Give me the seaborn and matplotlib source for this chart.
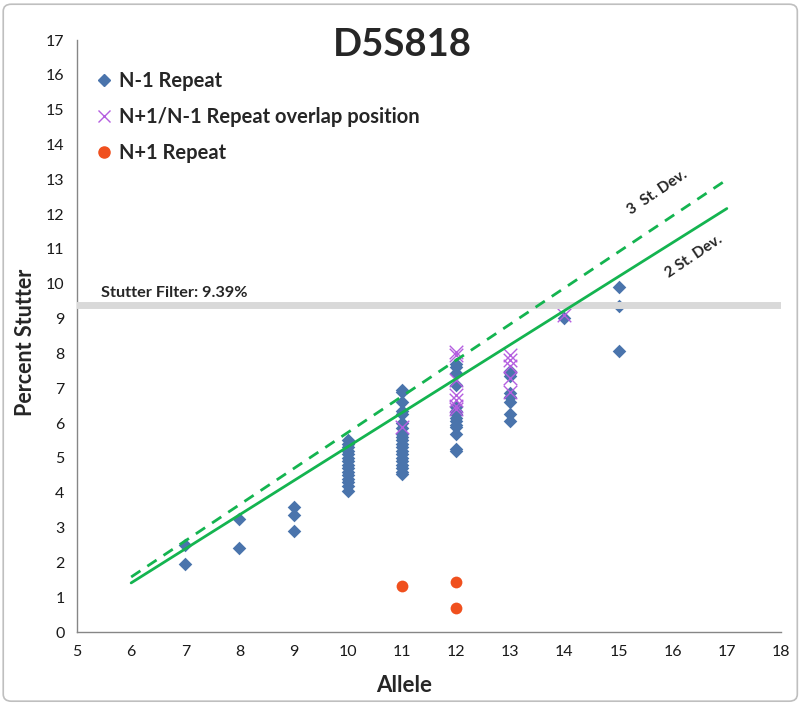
import numpy as np
import pandas as pd
import seaborn as sns
import matplotlib.pyplot as plt
from matplotlib.lines import Line2D
from matplotlib.patches import FancyBboxPatch

# data
n1_allele = ([7, 7, 8, 8, 9, 9, 9] + [10] * 15 + [11] * 20 + [12] * 14 + [13] * 8 + [14, 15, 15, 15])
n1_stutter = [2.5, 1.95, 3.25, 2.4, 3.6, 3.35, 2.9,
              5.5, 5.4, 5.3, 5.2, 5.1, 5.0, 4.9, 4.8, 4.7, 4.6, 4.5, 4.4, 4.3, 4.2, 4.05,
              6.95, 6.9, 6.6, 6.35, 6.25, 6.0, 5.85, 5.7, 5.6, 5.5, 5.4, 5.3, 5.2, 5.1,
              5.0, 4.9, 4.8, 4.7, 4.6, 4.55,
              7.7, 7.6, 7.45, 7.1, 6.45, 6.35, 6.25, 6.15, 6.05, 5.95, 5.9, 5.7, 5.25, 5.2,
              7.5, 7.45, 7.35, 6.85, 6.75, 6.6, 6.25, 6.05,
              9.02, 9.92, 9.35, 8.07]

overlap_allele = [11] + [12] * 7 + [13] * 5 + [14]
overlap_stutter = [5.9, 8.05, 7.95, 7.25, 6.8, 6.65, 6.5, 6.4,
                   7.95, 7.8, 7.65, 7.3, 6.9, 9.1]

p1_allele = [11, 12, 12]
p1_stutter = [1.32, 1.45, 0.69]

line_allele = [6, 17]
sd2_stutter = [1.41, 12.16]
sd3_stutter = [1.58, 12.99]
stutter_filter = 9.39

blue = '#4A74AC'
violet = '#B45EE0'
red = '#F0501E'
green = '#14B450'

sns.set_style('white')
plt.rcParams['font.family'] = ['Lato', 'DejaVu Sans']

fig = plt.figure(figsize=(8.07, 7.04), dpi=100)
ax = fig.add_axes([77 / 807, 1 - 632 / 704, (781 - 77) / 807, (632 - 40) / 704])

df1 = pd.DataFrame({'allele': n1_allele, 'stutter': n1_stutter})
dfo = pd.DataFrame({'allele': overlap_allele, 'stutter': overlap_stutter})
dfp = pd.DataFrame({'allele': p1_allele, 'stutter': p1_stutter})

sns.scatterplot(data=df1, x='allele', y='stutter', marker='D', s=48, color=blue,
                edgecolor=blue, linewidth=0, ax=ax, zorder=2)
sns.scatterplot(data=dfo, x='allele', y='stutter', marker='x', s=95, color=violet,
                linewidth=1.0, ax=ax, zorder=3)
sns.scatterplot(data=dfp, x='allele', y='stutter', marker='o', s=72, color=red,
                edgecolor=red, linewidth=0, ax=ax, zorder=2)

ax.axhline(stutter_filter, color='#D9D9D9', lw=5, zorder=4)
sns.lineplot(x=line_allele, y=sd2_stutter, color=green, lw=2, ax=ax, zorder=5)
sns.lineplot(x=line_allele, y=sd3_stutter, color=green, lw=2, ax=ax, zorder=5)
ax.lines[-1].set_dashes([4, 3])

ax.set_xlim(5, 18)
ax.set_ylim(0, 17)
ax.set_xticks(range(5, 19))
ax.set_yticks(range(0, 18))
ax.tick_params(axis='both', direction='out', length=5, width=1, color='#868686',
               labelsize=11.5, pad=4, labelcolor='#1a1a1a')
for s in ['top', 'right']:
    ax.spines[s].set_visible(False)
for s in ['left', 'bottom']:
    ax.spines[s].set_color('#868686')
    ax.spines[s].set_linewidth(1)

ax.set_xlabel('Allele', fontsize=16, fontweight='bold', labelpad=10)
ax.xaxis.set_label_coords(0.464, -0.072)
ax.set_ylabel('Percent Stutter', fontsize=15.5, fontweight='bold', labelpad=8)
ax.yaxis.set_label_coords(-0.058, 0.49)
ax.text(11.0, 16.85, 'D5S818', fontsize=27.5, fontweight='bold', ha='center', va='center')

ax.text(5.45, 9.74, 'Stutter Filter: 9.39%', fontsize=11.7, fontweight='bold',
        ha='left', va='center')
ax.text(15.72, 12.62, '3  St. Dev.', fontsize=11, fontweight='bold', rotation=34,
        ha='center', va='center')
ax.text(16.39, 10.78, '2 St. Dev.', fontsize=11, fontweight='bold', rotation=34,
        ha='center', va='center')

handles = [
    Line2D([], [], marker='D', ls='none', color=blue, markersize=6),
    Line2D([], [], marker='x', ls='none', color=violet, markersize=9, markeredgewidth=1),
    Line2D([], [], marker='o', ls='none', color=red, markersize=8),
]
labels = ['N-1 Repeat', 'N+1/N-1 Repeat overlap position', 'N+1 Repeat']
ax.legend(handles, labels, loc='upper left', bbox_to_anchor=(-0.002, 0.978), frameon=False,
          prop={'weight': 'bold', 'size': 14.5}, handletextpad=0.25, labelspacing=0.78,
          handlelength=1.0)

fig.patches.append(FancyBboxPatch((0.004, 0.004), 0.984, 0.99, boxstyle='round,pad=0,rounding_size=0.01',
                                  transform=fig.transFigure, fill=False,
                                  edgecolor='#BFBFBF', lw=1.2))

fig.savefig('out.png', dpi=100)
